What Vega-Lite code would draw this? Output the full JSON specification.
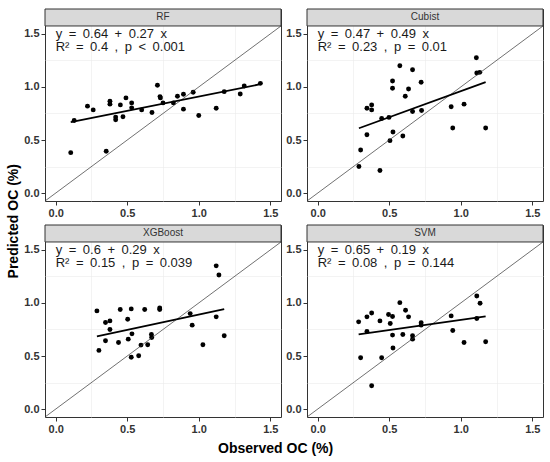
{
  "$schema": "https://vega.github.io/schema/vega-lite/v6.json",
  "background": "white",
  "padding": {"left": 7, "top": 8, "right": 5, "bottom": 3},
  "config": {
    "font": "Liberation Sans",
    "view": {"stroke": "#333333", "strokeWidth": 1},
    "header": {"labels": false, "title": null, "labelFontSize": 0, "labelPadding": 0},
    "axis": {
      "domain": false,
      "grid": true,
      "gridColor": "#ebebeb",
      "tickColor": "#333333",
      "tickSize": 4,
      "labelFontSize": 11,
      "labelFontWeight": "bold",
      "labelColor": "#333333",
      "labelPadding": 2,
      "labelFont": "Liberation Sans",
      "labelOverlap": false,
      "labelFlush": false
    }
  },
  "datasets": {
    "all": [
      {"kind": "lab", "model": "RF", "eq": "y\u2002=\u20020.64\u2002+\u20020.27\u2002x", "r2": "R²\u2002=\u20020.4\u2002,\u2002p\u2002<\u20020.001"},
      {"kind": "lab", "model": "Cubist", "eq": "y\u2002=\u20020.47\u2002+\u20020.49\u2002x", "r2": "R²\u2002=\u20020.23\u2002,\u2002p\u2002=\u20020.01"},
      {"kind": "lab", "model": "XGBoost", "eq": "y\u2002=\u20020.6\u2002+\u20020.29\u2002x", "r2": "R²\u2002=\u20020.15\u2002,\u2002p\u2002=\u20020.039"},
      {"kind": "lab", "model": "SVM", "eq": "y\u2002=\u20020.65\u2002+\u20020.19\u2002x", "r2": "R²\u2002=\u20020.08\u2002,\u2002p\u2002=\u20020.144"},
      {"kind": "fit", "model": "RF", "x": 0.105, "y": 0.668},
      {"kind": "fit", "model": "RF", "x": 1.431, "y": 1.026},
      {"kind": "fit", "model": "Cubist", "x": 0.288, "y": 0.611},
      {"kind": "fit", "model": "Cubist", "x": 1.174, "y": 1.045},
      {"kind": "fit", "model": "XGBoost", "x": 0.288, "y": 0.684},
      {"kind": "fit", "model": "XGBoost", "x": 1.178, "y": 0.942},
      {"kind": "fit", "model": "SVM", "x": 0.286, "y": 0.704},
      {"kind": "fit", "model": "SVM", "x": 1.174, "y": 0.873},
      {"kind": "pt", "model": "RF", "x": 0.105, "y": 0.381},
      {"kind": "pt", "model": "RF", "x": 0.129, "y": 0.684},
      {"kind": "pt", "model": "RF", "x": 0.222, "y": 0.819},
      {"kind": "pt", "model": "RF", "x": 0.262, "y": 0.784},
      {"kind": "pt", "model": "RF", "x": 0.353, "y": 0.394},
      {"kind": "pt", "model": "RF", "x": 0.379, "y": 0.866},
      {"kind": "pt", "model": "RF", "x": 0.379, "y": 0.838},
      {"kind": "pt", "model": "RF", "x": 0.419, "y": 0.716},
      {"kind": "pt", "model": "RF", "x": 0.419, "y": 0.691},
      {"kind": "pt", "model": "RF", "x": 0.452, "y": 0.831},
      {"kind": "pt", "model": "RF", "x": 0.470, "y": 0.719},
      {"kind": "pt", "model": "RF", "x": 0.491, "y": 0.897},
      {"kind": "pt", "model": "RF", "x": 0.531, "y": 0.850},
      {"kind": "pt", "model": "RF", "x": 0.531, "y": 0.803},
      {"kind": "pt", "model": "RF", "x": 0.601, "y": 0.784},
      {"kind": "pt", "model": "RF", "x": 0.673, "y": 0.759},
      {"kind": "pt", "model": "RF", "x": 0.711, "y": 1.016},
      {"kind": "pt", "model": "RF", "x": 0.729, "y": 0.909},
      {"kind": "pt", "model": "RF", "x": 0.732, "y": 0.897},
      {"kind": "pt", "model": "RF", "x": 0.750, "y": 0.850},
      {"kind": "pt", "model": "RF", "x": 0.823, "y": 0.850},
      {"kind": "pt", "model": "RF", "x": 0.851, "y": 0.913},
      {"kind": "pt", "model": "RF", "x": 0.893, "y": 0.931},
      {"kind": "pt", "model": "RF", "x": 0.893, "y": 0.791},
      {"kind": "pt", "model": "RF", "x": 0.961, "y": 0.950},
      {"kind": "pt", "model": "RF", "x": 1.000, "y": 0.731},
      {"kind": "pt", "model": "RF", "x": 1.122, "y": 0.800},
      {"kind": "pt", "model": "RF", "x": 1.178, "y": 0.956},
      {"kind": "pt", "model": "RF", "x": 1.290, "y": 0.934},
      {"kind": "pt", "model": "RF", "x": 1.318, "y": 1.009},
      {"kind": "pt", "model": "RF", "x": 1.431, "y": 1.034},
      {"kind": "pt", "model": "Cubist", "x": 0.288, "y": 0.250},
      {"kind": "pt", "model": "Cubist", "x": 0.300, "y": 0.406},
      {"kind": "pt", "model": "Cubist", "x": 0.344, "y": 0.550},
      {"kind": "pt", "model": "Cubist", "x": 0.344, "y": 0.800},
      {"kind": "pt", "model": "Cubist", "x": 0.377, "y": 0.831},
      {"kind": "pt", "model": "Cubist", "x": 0.377, "y": 0.784},
      {"kind": "pt", "model": "Cubist", "x": 0.435, "y": 0.213},
      {"kind": "pt", "model": "Cubist", "x": 0.447, "y": 0.703},
      {"kind": "pt", "model": "Cubist", "x": 0.498, "y": 0.713},
      {"kind": "pt", "model": "Cubist", "x": 0.505, "y": 0.494},
      {"kind": "pt", "model": "Cubist", "x": 0.523, "y": 1.056},
      {"kind": "pt", "model": "Cubist", "x": 0.523, "y": 0.988},
      {"kind": "pt", "model": "Cubist", "x": 0.526, "y": 0.575},
      {"kind": "pt", "model": "Cubist", "x": 0.574, "y": 1.200},
      {"kind": "pt", "model": "Cubist", "x": 0.595, "y": 0.538},
      {"kind": "pt", "model": "Cubist", "x": 0.612, "y": 0.913},
      {"kind": "pt", "model": "Cubist", "x": 0.635, "y": 0.981},
      {"kind": "pt", "model": "Cubist", "x": 0.663, "y": 1.163},
      {"kind": "pt", "model": "Cubist", "x": 0.663, "y": 0.769},
      {"kind": "pt", "model": "Cubist", "x": 0.723, "y": 1.044},
      {"kind": "pt", "model": "Cubist", "x": 0.726, "y": 0.778},
      {"kind": "pt", "model": "Cubist", "x": 0.933, "y": 0.813},
      {"kind": "pt", "model": "Cubist", "x": 0.944, "y": 0.613},
      {"kind": "pt", "model": "Cubist", "x": 1.023, "y": 0.838},
      {"kind": "pt", "model": "Cubist", "x": 1.109, "y": 1.275},
      {"kind": "pt", "model": "Cubist", "x": 1.112, "y": 1.131},
      {"kind": "pt", "model": "Cubist", "x": 1.133, "y": 1.138},
      {"kind": "pt", "model": "Cubist", "x": 1.174, "y": 0.613},
      {"kind": "pt", "model": "XGBoost", "x": 0.288, "y": 0.925},
      {"kind": "pt", "model": "XGBoost", "x": 0.302, "y": 0.553},
      {"kind": "pt", "model": "XGBoost", "x": 0.348, "y": 0.816},
      {"kind": "pt", "model": "XGBoost", "x": 0.348, "y": 0.644},
      {"kind": "pt", "model": "XGBoost", "x": 0.379, "y": 0.831},
      {"kind": "pt", "model": "XGBoost", "x": 0.379, "y": 0.750},
      {"kind": "pt", "model": "XGBoost", "x": 0.439, "y": 0.628},
      {"kind": "pt", "model": "XGBoost", "x": 0.451, "y": 0.938},
      {"kind": "pt", "model": "XGBoost", "x": 0.503, "y": 0.847},
      {"kind": "pt", "model": "XGBoost", "x": 0.507, "y": 0.659},
      {"kind": "pt", "model": "XGBoost", "x": 0.528, "y": 0.944},
      {"kind": "pt", "model": "XGBoost", "x": 0.528, "y": 0.488},
      {"kind": "pt", "model": "XGBoost", "x": 0.533, "y": 0.709},
      {"kind": "pt", "model": "XGBoost", "x": 0.580, "y": 0.503},
      {"kind": "pt", "model": "XGBoost", "x": 0.596, "y": 0.603},
      {"kind": "pt", "model": "XGBoost", "x": 0.622, "y": 0.938},
      {"kind": "pt", "model": "XGBoost", "x": 0.643, "y": 0.606},
      {"kind": "pt", "model": "XGBoost", "x": 0.669, "y": 0.703},
      {"kind": "pt", "model": "XGBoost", "x": 0.671, "y": 0.675},
      {"kind": "pt", "model": "XGBoost", "x": 0.727, "y": 0.953},
      {"kind": "pt", "model": "XGBoost", "x": 0.727, "y": 0.938},
      {"kind": "pt", "model": "XGBoost", "x": 0.940, "y": 0.900},
      {"kind": "pt", "model": "XGBoost", "x": 0.954, "y": 0.791},
      {"kind": "pt", "model": "XGBoost", "x": 1.029, "y": 0.606},
      {"kind": "pt", "model": "XGBoost", "x": 1.122, "y": 1.350},
      {"kind": "pt", "model": "XGBoost", "x": 1.122, "y": 0.869},
      {"kind": "pt", "model": "XGBoost", "x": 1.141, "y": 1.263},
      {"kind": "pt", "model": "XGBoost", "x": 1.178, "y": 0.691},
      {"kind": "pt", "model": "SVM", "x": 0.286, "y": 0.822},
      {"kind": "pt", "model": "SVM", "x": 0.300, "y": 0.484},
      {"kind": "pt", "model": "SVM", "x": 0.344, "y": 0.869},
      {"kind": "pt", "model": "SVM", "x": 0.344, "y": 0.731},
      {"kind": "pt", "model": "SVM", "x": 0.377, "y": 0.906},
      {"kind": "pt", "model": "SVM", "x": 0.377, "y": 0.219},
      {"kind": "pt", "model": "SVM", "x": 0.435, "y": 0.831},
      {"kind": "pt", "model": "SVM", "x": 0.447, "y": 0.484},
      {"kind": "pt", "model": "SVM", "x": 0.495, "y": 0.891},
      {"kind": "pt", "model": "SVM", "x": 0.507, "y": 0.806},
      {"kind": "pt", "model": "SVM", "x": 0.523, "y": 0.872},
      {"kind": "pt", "model": "SVM", "x": 0.523, "y": 0.697},
      {"kind": "pt", "model": "SVM", "x": 0.526, "y": 0.575},
      {"kind": "pt", "model": "SVM", "x": 0.574, "y": 1.003},
      {"kind": "pt", "model": "SVM", "x": 0.595, "y": 0.703},
      {"kind": "pt", "model": "SVM", "x": 0.614, "y": 0.931},
      {"kind": "pt", "model": "SVM", "x": 0.635, "y": 0.869},
      {"kind": "pt", "model": "SVM", "x": 0.663, "y": 0.691},
      {"kind": "pt", "model": "SVM", "x": 0.663, "y": 0.659},
      {"kind": "pt", "model": "SVM", "x": 0.723, "y": 0.813},
      {"kind": "pt", "model": "SVM", "x": 0.723, "y": 0.791},
      {"kind": "pt", "model": "SVM", "x": 0.933, "y": 0.878},
      {"kind": "pt", "model": "SVM", "x": 0.944, "y": 0.741},
      {"kind": "pt", "model": "SVM", "x": 1.023, "y": 0.628},
      {"kind": "pt", "model": "SVM", "x": 1.112, "y": 1.066},
      {"kind": "pt", "model": "SVM", "x": 1.112, "y": 0.853},
      {"kind": "pt", "model": "SVM", "x": 1.135, "y": 0.997},
      {"kind": "pt", "model": "SVM", "x": 1.174, "y": 0.634}
    ]
  },
  "title": {"text": "Observed OC (%)", "orient": "bottom", "anchor": "middle", "fontSize": 14, "fontWeight": "bold", "color": "#000000", "font": "Liberation Sans", "offset": 7},
  "vconcat": [
    {
      "title": {"text": "Predicted OC (%)", "orient": "left", "anchor": "middle", "fontSize": 14, "fontWeight": "bold", "color": "#000000", "font": "Liberation Sans", "offset": 2},
      "data": {"name": "all"},
      "facet": {"field": "model", "type": "nominal", "sort": ["RF", "Cubist", "XGBoost", "SVM"], "header": null},
      "columns": 2,
      "spacing": {"row": 5, "column": 3},
      "resolve": {"axis": {"x": "independent", "y": "independent"}},
      "spec": {
        "width": 236,
        "height": 192,
        "resolve": {"axis": {"x": "independent", "y": "independent"}},
        "layer": [
          {
            "transform": [{"filter": "datum.kind === 'lab'"}],
            "mark": {"type": "rect", "fill": "#d9d9d9", "stroke": "#333333", "strokeWidth": 1},
            "encoding": {
              "x": {"datum": -0.075, "type": "quantitative", "title": null, "scale": {"domain": [-0.075, 1.575], "nice": false, "zero": false}, "axis": {"orient": "top", "values": [0.25, 0.75, 1.25], "labels": false, "ticks": false, "domain": false, "grid": true, "gridWidth": 0.6, "gridColor": "#ebebeb"}},
              "x2": {"datum": 1.575},
              "y": {"datum": 1.575, "type": "quantitative", "title": null, "scale": {"domain": [-0.075, 1.735], "nice": false, "zero": false}, "axis": {"orient": "right", "values": [0.25, 0.75, 1.25], "labels": false, "ticks": false, "domain": false, "grid": true, "gridWidth": 0.6, "gridColor": "#ebebeb"}},
              "y2": {"datum": 1.735}
            }
          },
          {
            "transform": [{"filter": "datum.kind === 'pt'"}],
            "mark": {"type": "circle", "size": 24, "color": "#000000", "opacity": 1},
            "encoding": {
              "x": {"field": "x", "type": "quantitative", "title": null, "axis": {"orient": "bottom", "values": [0, 0.5, 1, 1.5], "format": ".1f", "labelOverlap": false, "labelFlush": false, "gridWidth": 1.1}},
              "y": {"field": "y", "type": "quantitative", "title": null, "axis": {"orient": "left", "values": [0, 0.5, 1, 1.5], "format": ".1f", "labelOverlap": false, "labelFlush": false, "gridWidth": 1.1}}
            }
          },
          {
            "transform": [{"filter": "datum.kind === 'lab'"}],
            "mark": {"type": "rule", "color": "#333333", "strokeWidth": 0.7},
            "encoding": {
              "x": {"datum": -0.075, "type": "quantitative", "title": null, "axis": null},
              "x2": {"datum": 1.575},
              "y": {"datum": -0.075, "type": "quantitative", "title": null, "axis": null},
              "y2": {"datum": 1.575}
            }
          },
          {
            "transform": [{"filter": "datum.kind === 'fit'"}],
            "mark": {"type": "line", "color": "#000000", "strokeWidth": 1.8},
            "encoding": {
              "x": {"field": "x", "type": "quantitative", "title": null, "axis": null},
              "y": {"field": "y", "type": "quantitative", "title": null, "axis": null}
            }
          },
          {
            "transform": [{"filter": "datum.kind === 'lab'"}],
            "mark": {"type": "text", "fontSize": 10, "color": "#333333", "align": "center", "baseline": "middle", "font": "Liberation Sans"},
            "encoding": {
              "x": {"datum": 0.75, "type": "quantitative", "title": null, "axis": null},
              "y": {"datum": 1.655, "type": "quantitative", "title": null, "axis": null},
              "text": {"field": "model", "type": "nominal"}
            }
          },
          {
            "transform": [{"filter": "datum.kind === 'lab'"}],
            "mark": {"type": "text", "fontSize": 13, "color": "#1a1a1a", "align": "left", "baseline": "middle", "font": "Liberation Sans"},
            "encoding": {
              "x": {"datum": 0, "type": "quantitative", "title": null, "axis": null},
              "y": {"datum": 1.502, "type": "quantitative", "title": null, "axis": null},
              "text": {"field": "eq", "type": "nominal"}
            }
          },
          {
            "transform": [{"filter": "datum.kind === 'lab'"}],
            "mark": {"type": "text", "fontSize": 13, "color": "#1a1a1a", "align": "left", "baseline": "middle", "font": "Liberation Sans"},
            "encoding": {
              "x": {"datum": 0, "type": "quantitative", "title": null, "axis": null},
              "y": {"datum": 1.374, "type": "quantitative", "title": null, "axis": null},
              "text": {"field": "r2", "type": "nominal"}
            }
          }
        ]
      }
    }
  ]
}
